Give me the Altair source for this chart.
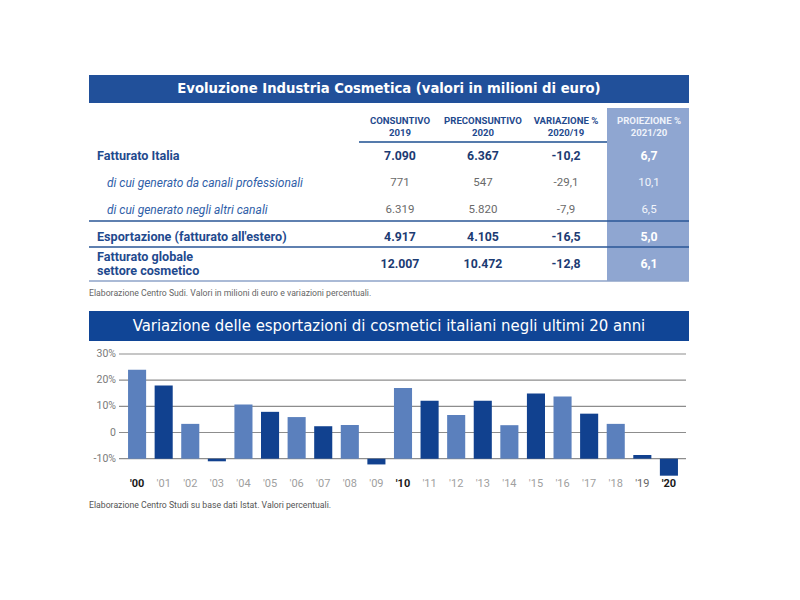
import altair as alt
import pandas as pd

# ---------------- data: table ----------------
table_title = "Evoluzione Industria Cosmetica (valori in milioni di euro)"
col_keys = ["c2019", "c2020", "var", "proj"]
col_headers = ["CONSUNTIVO\n2019", "PRECONSUNTIVO\n2020", "VARIAZIONE %\n2020/19", "PROIEZIONE %\n2021/20"]
row_labels = [
    "Fatturato Italia",
    "di cui generato da canali professionali",
    "di cui generato negli altri canali",
    "Esportazione (fatturato all'estero)",
    "Fatturato globale\nsettore cosmetico",
]
cons_2019 = ["7.090", "771", "6.319", "4.917", "12.007"]
pre_2020 = ["6.367", "547", "5.820", "4.105", "10.472"]
var_20_19 = ["-10,2", "-29,1", "-7,9", "-16,5", "-12,8"]
proj_21_20 = ["6,7", "10,1", "6,5", "5,0", "6,1"]
table_note = "Elaborazione Centro Sudi. Valori in milioni di euro e variazioni percentuali."

# ---------------- data: bar chart ----------------
chart_title = "Variazione delle esportazioni di cosmetici italiani negli ultimi 20 anni"
years = ["'00", "'01", "'02", "'03", "'04", "'05", "'06", "'07", "'08", "'09",
         "'10", "'11", "'12", "'13", "'14", "'15", "'16", "'17", "'18", "'19", "'20"]
export_change = [24, 18, 3.3, -11, 10.7, 7.9, 5.9, 2.4, 2.9, -12.2,
                 17, 12.1, 6.7, 12.1, 2.8, 14.9, 13.8, 7.2, 3.3, -8.6, -16.5]
y_ticks = [-10, 0, 10, 20, 30]
y_tick_labels = ["-10%", "0", "10%", "20%", "30%"]
chart_note = "Elaborazione Centro Studi su base dati Istat. Valori percentuali."

# ---------------- styling ----------------
NARROW = "Liberation Sans Narrow, DejaVu Sans Condensed, Roboto Condensed, Arial Narrow, sans-serif"
BODY = "Roboto, Lato, Noto Sans, sans-serif"
BLUE_TEXT = "#1f4a8e"
W = 600

# ---------------- table panel ----------------
cells = []
for i, r in enumerate(row_labels):
    for k, vals in zip(col_keys, [cons_2019, pre_2020, var_20_19, proj_21_20]):
        cells.append({"row": r, "col": k, "txt": vals[i]})
cells_df = pd.DataFrame(cells)
rows_df = pd.DataFrame({"row": row_labels})
heads_df = pd.DataFrame({"col": col_keys, "head": col_headers})
one = pd.DataFrame({"t": [table_title]})
note_df = pd.DataFrame({"t": [table_note]})

row_scale = alt.Scale(type="point", domain=row_labels, range=[81, 189], padding=0)
col_scale = alt.Scale(type="point", domain=col_keys, range=[311, 560], padding=0)
Yrow = alt.Y("row:N", scale=row_scale, axis=None)
Xcol = alt.X("col:N", scale=col_scale, axis=None)
is_sub = "indexof(datum.row, 'di cui') == 0"
is_multi = "indexof(datum.row, '\\n') >= 0"

title_rect = alt.Chart(one).mark_rect(color="#21509a").encode(
    x=alt.value(0), x2=alt.value(W), y=alt.value(0), y2=alt.value(28))
title_txt = alt.Chart(one).mark_text(
    font=NARROW, fontSize=14.7, fontWeight="bold", color="white", align="center", baseline="middle"
).encode(x=alt.value(W / 2), y=alt.value(14), text="t:N")
shade = alt.Chart(one).mark_rect(color="#8fa6d1").encode(
    x=alt.value(518), x2=alt.value(W), y=alt.value(33), y2=alt.value(206))

heads = alt.Chart(heads_df).mark_text(
    font=BODY, fontSize=9.6, fontWeight="bold", lineBreak="\n", lineHeight=12, baseline="middle"
).encode(
    x=Xcol, y=alt.value(46), text="head:N",
    color=alt.condition("datum.col == 'proj'", alt.value("#eef2fa"), alt.value(BLUE_TEXT)),
)

rule_head = alt.Chart(one).mark_rule(color="#1d4f91", strokeWidth=1.5).encode(
    x=alt.value(270), x2=alt.value(518), y=alt.value(67))
rule_a = alt.Chart(one).mark_rule(color="#2a5696", strokeWidth=1.5).encode(
    x=alt.value(0), x2=alt.value(W), y=alt.value(146))
rule_b = alt.Chart(one).mark_rule(color="#2a5696", strokeWidth=1.5).encode(
    x=alt.value(0), x2=alt.value(W), y=alt.value(172))
rule_c = alt.Chart(one).mark_rule(color="#8ea3c8", strokeWidth=1.5).encode(
    x=alt.value(0), x2=alt.value(W), y=alt.value(206))

lab_main = alt.Chart(rows_df).transform_filter(
    "!(" + is_sub + ") && !(" + is_multi + ")").mark_text(
    font=BODY, fontSize=12.6, fontWeight="bold", color=BLUE_TEXT, align="left", baseline="middle"
).encode(x=alt.value(8), y=Yrow, text="row:N")
lab_multi = alt.Chart(rows_df).transform_filter(is_multi).mark_text(
    font=BODY, fontSize=12.6, fontWeight="bold", color=BLUE_TEXT, align="left",
    baseline="middle", lineBreak="\n", lineHeight=13.5, dy=-7
).encode(x=alt.value(8), y=Yrow, text="row:N")
lab_sub = alt.Chart(rows_df).transform_filter(is_sub).mark_text(
    font=BODY, fontSize=12, fontStyle="italic", color="#2f60a8", align="left", baseline="middle"
).encode(x=alt.value(18), y=Yrow, text="row:N")

val_main = alt.Chart(cells_df).transform_filter(
    "!(" + is_sub + ") && datum.col != 'proj'").mark_text(
    font=BODY, fontSize=12.3, fontWeight="bold", color="#1c3b73", baseline="middle"
).encode(x=Xcol, y=Yrow, text="txt:N")
val_sub = alt.Chart(cells_df).transform_filter(
    is_sub + " && datum.col != 'proj'").mark_text(
    font=BODY, fontSize=11.5, color="#6a6a6a", baseline="middle"
).encode(x=Xcol, y=Yrow, text="txt:N")
proj_main = alt.Chart(cells_df).transform_filter(
    "!(" + is_sub + ") && datum.col == 'proj'").mark_text(
    font=BODY, fontSize=12.3, fontWeight="bold", color="white", baseline="middle"
).encode(x=Xcol, y=Yrow, text="txt:N")
proj_sub = alt.Chart(cells_df).transform_filter(
    is_sub + " && datum.col == 'proj'").mark_text(
    font=BODY, fontSize=11.5, color="#f2f5fb", baseline="middle"
).encode(x=Xcol, y=Yrow, text="txt:N")

note_a = alt.Chart(note_df).mark_text(
    font=BODY, fontSize=8.7, color="#666666", align="left", baseline="middle"
).encode(x=alt.value(0), y=alt.value(218), text="t:N")

table_panel = alt.layer(
    title_rect, title_txt, shade, heads, rule_head, rule_a, rule_b, rule_c,
    lab_main, lab_multi, lab_sub, val_main, val_sub, proj_main, proj_sub, note_a
).properties(width=W, height=230)

# ---------------- bar panel ----------------
bars_df = pd.DataFrame({"year": years, "value": export_change})
ticks_df = pd.DataFrame({"tick": y_ticks, "lab": y_tick_labels})
one2 = pd.DataFrame({"t": [chart_title]})
note2_df = pd.DataFrame({"t": [chart_note]})

yscale = alt.Scale(domain=[-17, 30], range=[172, 49], nice=False, zero=False)
xscale = alt.Scale(domain=years, range=[30, 598], paddingInner=0.32, paddingOuter=0.34)

title2_rect = alt.Chart(one2).mark_rect(color="#104596").encode(
    x=alt.value(0), x2=alt.value(W), y=alt.value(6), y2=alt.value(36))
title2_txt = alt.Chart(one2).mark_text(
    font=NARROW, fontSize=16.6, color="white", align="center", baseline="middle"
).encode(x=alt.value(W / 2), y=alt.value(21), text="t:N")

grid = alt.Chart(ticks_df).mark_rule(color="#8d8d8d", strokeWidth=1.2).encode(
    x=alt.value(30), x2=alt.value(597), y=alt.Y("tick:Q", scale=yscale, axis=None))
ylabs = alt.Chart(ticks_df).mark_text(
    font=BODY, fontSize=10.5, color="#7a7a7a", align="right", baseline="middle"
).encode(x=alt.value(27), y=alt.Y("tick:Q", scale=yscale, axis=None), text="lab:N")

bold_years = "indexof([\"'00\", \"'10\", \"'20\"], datum.value) >= 0"
bars = alt.Chart(bars_df).transform_calculate(
    tone="(toNumber(substring(datum.year, 1)) % 2 == 1 || datum.year == \"'20\") ? 'dark' : 'light'"
).mark_bar().encode(
    x=alt.X("year:N", scale=xscale, sort=years, title=None,
            axis=alt.Axis(orient="bottom", domain=False, ticks=False, tickSize=0, labelPadding=0,
                          labelAngle=0, labelFont=BODY, labelFontSize=11,
                          labelColor=alt.ExprRef(expr=bold_years + " ? '#1a1a1a' : (datum.value == \"'19\" ? '#666666' : '#a0a0a0')"),
                          labelFontWeight=alt.ExprRef(expr=bold_years + " ? 'bold' : 'normal'"))),
    y=alt.Y("value:Q", scale=yscale, axis=None),
    y2=alt.datum(-10),
    color=alt.Color("tone:N", scale=alt.Scale(domain=["light", "dark"], range=["#5b80bd", "#11418f"]),
                    legend=None),
)

note_b = alt.Chart(note2_df).mark_text(
    font=BODY, fontSize=8.7, color="#555555", align="left", baseline="middle"
).encode(x=alt.value(0), y=alt.value(200), text="t:N")

bar_panel = alt.layer(title2_rect, title2_txt, grid, ylabs, bars, note_b).properties(
    width=W, height=172)

chart = alt.vconcat(table_panel, bar_panel, spacing=0).properties(
    padding={"left": 80, "top": 67, "right": 10, "bottom": 10}
).configure_view(strokeWidth=0).resolve_scale(x="independent", y="independent")

chart.save("out.html", embed_options={"renderer": "svg", "actions": False})
